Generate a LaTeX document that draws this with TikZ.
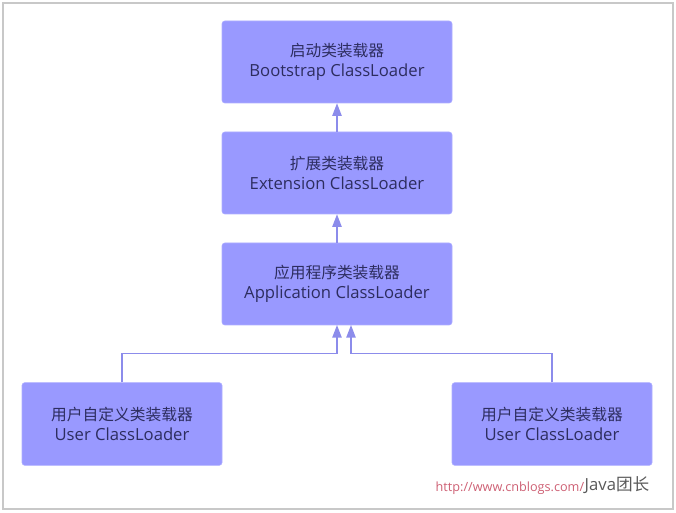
\documentclass[tikz,border=0pt]{standalone}
\usepackage{fontspec}
\setmainfont{Open Sans}
\newfontfamily\cjk{Noto Sans CJK SC}
\usetikzlibrary{arrows.meta,positioning}
\definecolor{boxfill}{RGB}{153,153,255}
\definecolor{boxline}{RGB}{175,175,255}
\definecolor{boxtext}{RGB}{45,45,95}
\definecolor{linkblue}{RGB}{140,140,235}
\definecolor{framegray}{RGB}{200,200,200}
\definecolor{markred}{RGB}{205,95,115}

\tikzset{
  loader/.style={draw=boxline, fill=boxfill, rounded corners=2pt, text=boxtext,
    align=center, minimum width=172.5pt, minimum height=61.5pt,
    font=\fontsize{12.5}{15.5}\selectfont},
  userloader/.style={loader, minimum width=150pt, minimum height=62pt},
  link/.style={draw=linkblue, line width=1.1pt, -{Triangle[length=9.5pt,width=7pt]}}
}
\newcommand{\zh}[1]{{\cjk\fontsize{11.8}{15.5}\selectfont #1}}

\begin{document}
\begin{tikzpicture}[x=0.75pt,y=-0.75pt]
\useasboundingbox (0,0) rectangle (676,513);
\draw[framegray, line width=0.9pt] (3,3) rectangle (673,509);

% the chain of loaders
\node[loader] (boot) at (337,62) {\zh{启动类装载器}\\Bootstrap ClassLoader};
\node[loader] (ext) at (337,173) {\zh{扩展类装载器}\\Extension ClassLoader};
\node[loader] (app) at (337,284) {\zh{应用程序类装载器}\\Application ClassLoader};
\node[userloader] (userL) at (122,424) {\zh{用户自定义类装载器}\\User ClassLoader};
\node[userloader] (userR) at (552,424) {\zh{用户自定义类装载器}\\User ClassLoader};

\coordinate (tapL) at (337,325);
\coordinate (tapR) at (351,325);

\draw[link] (ext) -- (boot);
\draw[link] (app) -- (ext);
\draw[link] (userL.north) -- ++(0,-29) -| (tapL);
\draw[link] (userR.north) -- ++(0,-29) -| (tapR);

% watermark
\node[anchor=west, text=markred, font=\fontsize{9.5}{11}\selectfont] (site) at (431,488) {http://www.cnblogs.com/};
\node[anchor=west, text=black!65, font=\fontsize{12.5}{14}\selectfont] (mark) at (580,485) {Java{\cjk 团长}};
\end{tikzpicture}
\end{document}
